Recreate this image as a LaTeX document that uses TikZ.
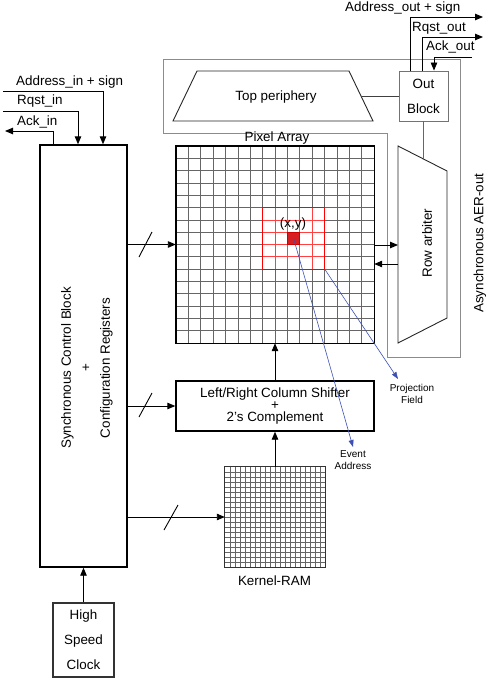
\documentclass[tikz,border=0pt]{standalone}
\usepackage{fontspec}
\setmainfont{Liberation Sans}
\usetikzlibrary{arrows.meta,calc}
\definecolor{projblue}{RGB}{60,80,180}
\definecolor{cellred}{RGB}{215,30,35}
\begin{document}
\begin{tikzpicture}[x=1pt,y=-1pt,
  font=\fontsize{13.4}{16}\selectfont,
  box/.style={draw=black,line width=1.4pt,inner sep=0pt},
  conn/.style={line width=0.9pt,-{Triangle[length=8pt,width=6.5pt]}},
  wire/.style={line width=0.9pt},
  gridl/.style={black!60,line width=0.7pt},
  kgrid/.style={black!60,line width=0.55pt},
  redl/.style={red!75,line width=0.7pt},
  frame/.style={black!45,line width=0.9pt},
  projline/.style={projblue,line width=0.6pt,-{Triangle[length=7pt,width=5pt]}},
  small/.style={font=\fontsize{10}{12}\selectfont,align=center,inner sep=0pt}
]
\useasboundingbox (0,0) rectangle (490,682);

% gray AER-out frame
\draw[frame] (163,59) -- (460,59) -- (460,357) -- (387,357) -- (387,133) -- (163,133) -- cycle;
\node[rotate=90,inner sep=0] (aer) at (480,243) {Asynchronous AER-out};

% control block
\node[box,minimum width=87pt,minimum height=422pt] (ctrl) at (83.5,356) {};
\node[rotate=90,align=center,inner sep=0,font=\fontsize{13.4}{19.5}\selectfont] (ctrltxt) at (87,368) {Synchronous Control Block\\+\\Configuration Registers};

% pixel array
\node[inner sep=0,minimum width=198pt,minimum height=197pt] (pa) at (275,244.5) {};
\foreach \i in {1,...,15} {
  \draw[gridl] ({176+\i*12.375},146) -- ++(0,197);
  \draw[gridl] (176,{146+\i*12.3125}) -- ++(198,0);
}
\foreach \i in {8,...,11} \draw[redl] ({176+\i*12.375},207.56) -- (({176+\i*12.375},269.125);
\foreach \i in {6,...,9} \draw[redl] (262.625,{146+\i*12.3125}) -- (324.5,{146+\i*12.3125});
\node[fill=cellred,draw=red!80!black,line width=0.6pt,minimum width=12.375pt,minimum height=12.3125pt,inner sep=0] (cell) at (293.56,238.34) {};
\node[draw=red,line width=1.2pt,minimum width=61.875pt,minimum height=61.56pt,inner sep=0] (rb) at (293.56,238.34) {};
\draw[line width=1.4pt] (pa.north west) rectangle (pa.south east);
\node[anchor=base,inner sep=0] (pal) at (277,142) {Pixel Array};
\node[inner sep=0] (xy) at (293,224) {(x,y)};

% top periphery
\draw[line width=0.9pt,black!85] (197,71) -- (349,71) -- (373,121) -- (173,121) -- cycle;
\node[inner sep=0] (tp) at (276,97) {Top periphery};
\coordinate (tpR) at (361,96);

% out block
\node[draw=black!55,line width=0.9pt,minimum width=49pt,minimum height=50pt,inner sep=0,align=center,font=\fontsize{13.4}{25}\selectfont] (ob) at (423.5,96) {Out\\Block};
\draw[wire,black!75] (tpR) -- (ob.west);

% row arbiter
\draw[line width=0.9pt,black!85] (398,146) -- (447,171) -- (447,318) -- (398,343) -- cycle;
\node[rotate=90,inner sep=0] (ra) at (427,243) {Row arbiter};
\coordinate (raT) at (423.5,159);
\coordinate (raL1) at (398,245);
\coordinate (raL2) at (398,264);
\draw[wire,black!60] (ob.south) -- (raT);
\draw[conn] (pa.east |- raL1) -- (raL1);
\draw[conn] (raL2) -- (raL2 -| pa.east);

% shifter
\node[box,minimum width=198pt,minimum height=50pt,align=center,font=\fontsize{13.4}{12}\selectfont] (sh) at (275,406) {Left/Right Column Shifter\\+\\2's Complement};

% kernel RAM
\node[inner sep=0,minimum size=100pt] (kr) at (275,517) {};
\foreach \i in {1,...,19} {
  \draw[kgrid] ({225+\i*5},467) -- ++(0,100);
  \draw[kgrid] (225,{467+\i*5}) -- ++(100,0);
}
\draw[line width=1pt,black!80] (kr.north west) rectangle (kr.south east);
\node[anchor=base,inner sep=0] (krl) at (274.5,585) {Kernel-RAM};

% vertical data arrows
\draw[conn] (sh.north) -- (pa.south);
\draw[conn] (kr.north) -- (sh.south);

% control outputs with bus slashes
\draw[conn] (ctrl.east |- pa.west) -- (pa.west);
\draw[conn] (ctrl.east |- sh.west) -- (sh.west);
\draw[conn] (ctrl.east |- kr.west) -- (kr.west);
\draw[wire] (139,257) -- (152,232);
\draw[wire] (139,417) -- (152,393);
\draw[wire] (164,530) -- (178,505);

% clock
\node[draw=black!80,line width=1.1pt,minimum width=61pt,minimum height=74pt,inner sep=0,align=center,font=\fontsize{13.4}{25}\selectfont] (clk) at (83.5,640) {High\\Speed\\Clock};
\draw[conn] (clk.north) -- (ctrl.south);

% inputs
\coordinate (ain) at (3,91);
\coordinate (rin) at (3,111);
\coordinate (ackin) at (5,131);
\draw[conn] (ain) -| ([xshift=19.5pt]ctrl.north);
\draw[conn] (rin) -| ([xshift=-5.5pt]ctrl.north);
\draw[conn] ([xshift=-30.5pt]ctrl.north) |- (ackin);
\node[anchor=base west,inner sep=0] (lain) at (16,86) {Address\_in + sign};
\node[anchor=base west,inner sep=0] (lrin) at (17,105) {Rqst\_in};
\node[anchor=base west,inner sep=0] (lackin) at (17,125) {Ack\_in};

% outputs
\coordinate (aout) at (483,17);
\coordinate (rout) at (483,37);
\coordinate (ackout) at (472,57);
\draw[conn] ([xshift=-13.5pt]ob.north) |- (aout);
\draw[conn] ([xshift=-1.5pt]ob.north) |- (rout);
\draw[conn] (ackout) -| ([xshift=10.5pt]ob.north);
\node[anchor=base west,inner sep=0] (laout) at (345,12) {Address\_out + sign};
\node[anchor=base west,inner sep=0] (lrout) at (412,32) {Rqst\_out};
\node[anchor=base west,inner sep=0] (lackout) at (426,51) {Ack\_out};

% projection lines
\coordinate (ev) at (353,447);
\coordinate (pf) at (398,379);
\draw[projline] (cell.center) -- (ev);
\draw[projline] (rb.south east) -- (pf);
\node[small] (evl) at (353,460) {Event\\Address};
\node[small] (pfl) at (412,394) {Projection\\Field};
\end{tikzpicture}
\end{document}
